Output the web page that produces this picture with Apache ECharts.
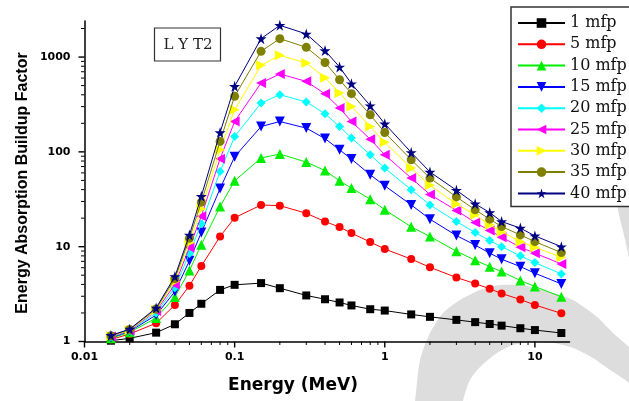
<!DOCTYPE html>
<html>
<head>
<meta charset="utf-8">
<script src="https://cdn.jsdelivr.net/npm/echarts@6/dist/echarts.min.js"></script>
<style>
  html, body { margin: 0; padding: 0; background: #fff; }
  #chart { width: 629px; height: 401px; }
  #measure { position: absolute; left: -2000px; top: 0; width: 629px; height: 401px; visibility: hidden; }
</style>
</head>
<body>
<div id="chart"></div>
<div id="measure"></div>
<script>
// Photon energies (MeV)
const energy = [0.015, 0.02, 0.03, 0.04, 0.05, 0.06, 0.08, 0.1, 0.15, 0.2, 0.3, 0.4, 0.5,
                0.6, 0.8, 1, 1.5, 2, 3, 4, 5, 6, 8, 10, 15];

// Energy absorption buildup factors for each penetration depth
const eabf1  = [1.02, 1.08, 1.24, 1.52, 2.0, 2.5, 3.5, 3.96, 4.13, 3.65, 3.06, 2.79, 2.58,
                2.40, 2.19, 2.12, 1.93, 1.82, 1.69, 1.60, 1.53, 1.47, 1.38, 1.32, 1.23];
const eabf5  = [1.05, 1.2, 1.56, 2.43, 3.87, 6.25, 12.8, 20.2, 27.5, 27.1, 22.5, 18.4, 16.1,
                13.9, 11.2, 9.45, 7.4, 6.06, 4.73, 4.08, 3.6, 3.21, 2.77, 2.43, 1.98];
const eabf10 = [1.08, 1.25, 1.77, 2.95, 5.6, 10.5, 26.5, 49.5, 86, 95, 78, 63.5, 49.5,
                41.5, 31.7, 24.5, 16.2, 12.8, 8.95, 7.2, 6.16, 5.46, 4.4, 3.8, 2.96];
const eabf15 = [1.10, 1.28, 1.9, 3.36, 7.1, 14.1, 41, 89, 185, 209, 178, 138, 105,
                84, 57.3, 43.9, 27.6, 19.5, 13.1, 10.4, 8.54, 7.38, 6.16, 5.25, 4.05];
const eabf20 = [1.12, 1.30, 2.0, 3.7, 8.5, 17.5, 62, 145, 327, 401, 336, 252, 185,
                140, 93.2, 67.4, 39.8, 27.6, 18.4, 14.1, 11.6, 10.0, 8.0, 6.79, 5.16];
const eabf25 = [1.13, 1.31, 2.1, 4.0, 9.8, 21, 84.6, 209, 533, 663, 554, 409, 290,
                209, 136, 93.2, 52.9, 35.5, 24.1, 18.0, 14.8, 12.6, 9.88, 8.54, 6.58];
const eabf30 = [1.14, 1.32, 2.15, 4.3, 11, 25, 105, 278, 817, 1042, 866, 606, 418,
                301, 185, 126, 67.4, 44.4, 28.2, 21.7, 17.0, 14.4, 11.3, 9.88, 7.75];
const eabf35 = [1.15, 1.34, 2.2, 4.6, 12.3, 29.5, 129, 385, 1149, 1564, 1266, 876, 577,
                411, 246, 160, 82.5, 52.9, 33.5, 24.5, 19.5, 16.3, 13.3, 11.3, 8.66];
const eabf40 = [1.16, 1.35, 2.26, 4.85, 13.3, 34, 160, 491, 1564, 2161, 1753, 1169, 786,
                524, 307, 198, 98.6, 61.3, 39.4, 28.3, 22.9, 18.4, 15.7, 13.0, 10.0];

const seriesNames = ['1 mfp', '5 mfp', '10 mfp', '15 mfp', '20 mfp', '25 mfp', '30 mfp', '35 mfp', '40 mfp'];
const seriesValues = [eabf1, eabf5, eabf10, eabf15, eabf20, eabf25, eabf30, eabf35, eabf40];

// Axis ticks and their labels
const xTicks = [0.01, 0.1, 1, 10];
const xTickLabels = ['0.01', '0.1', '1', '10'];
const xMinorTicks = [0.02, 0.03, 0.04, 0.05, 0.06, 0.07, 0.08, 0.09,
                     0.2, 0.3, 0.4, 0.5, 0.6, 0.7, 0.8, 0.9,
                     2, 3, 4, 5, 6, 7, 8, 9];
const yTicks = [1, 10, 100, 1000];
const yTickLabels = ['1', '10', '100', '1000'];
const yMinorTicks = [2, 3, 4, 5, 6, 7, 8, 9, 20, 30, 40, 50, 60, 70, 80, 90,
                     200, 300, 400, 500, 600, 700, 800, 900, 2000];

const X_MIN = 0.01, X_MAX = 17, Y_MIN = 1, Y_MAX = 2400;

// Marker styles per series
const colors = ['#000000', '#ff0000', '#00ee00', '#0000ff', '#00ffff', '#ff00ff', '#ffff00', '#808000', '#000080'];
const starPath = 'path://M50,0 L61,35 L98,35 L68,57 L79,91 L50,70 L21,91 L32,57 L2,35 L39,35 Z';
const symbols = ['rect', 'circle', 'triangle', 'triangle', 'diamond', 'triangle', 'triangle', 'circle', starPath];
const rotations = [0, 0, 0, 180, 0, 90, -90, 0, 0];
const sizes = [8, 8, 10, 10, 9, 10, 10, 9, 11];

function nearestIndex(list, v) {
  let best = 0, bd = Infinity;
  list.forEach((t, i) => {
    const d = Math.abs(Math.log10(t) - Math.log10(v));
    if (d < bd) { bd = d; best = i; }
  });
  return best;
}

const tickFont = { fontFamily: 'DejaVu Sans', fontWeight: 'bold', fontSize: 11, color: '#000' };
const axisLineStyle = { color: '#000', width: 1.5 };
const gridLayout = { left: 84.5, right: 59.5, top: 21, bottom: 59.5 };

function axesOption() {
  return {
    grid: Object.assign({}, gridLayout),
    xAxis: {
      type: 'log', logBase: 10, min: X_MIN, max: X_MAX,
      axisLine: { show: true, lineStyle: axisLineStyle },
      axisTick: { show: false },
      axisLabel: Object.assign({ customValues: xTicks, margin: 10,
        formatter: v => xTickLabels[nearestIndex(xTicks, v)] }, tickFont),
      splitLine: { show: false }
    },
    yAxis: {
      type: 'log', logBase: 10, min: Y_MIN, max: Y_MAX,
      axisLine: { show: true, lineStyle: axisLineStyle },
      axisTick: { show: false },
      axisLabel: Object.assign({ customValues: yTicks, margin: 14,
        formatter: v => yTickLabels[nearestIndex(yTicks, v)] }, tickFont),
      splitLine: { show: false }
    }
  };
}

// Lay out the same axes on an off-screen instance to find where the tick marks go
const probe = echarts.init(document.getElementById('measure'), null, { width: 629, height: 401 });
probe.setOption(Object.assign({ animation: false, series: [{ type: 'line', data: [] }] }, axesOption()));
const xAt = v => probe.convertToPixel({ xAxisIndex: 0 }, v);
const yAt = v => probe.convertToPixel({ yAxisIndex: 0 }, v);
const axisX = xAt(X_MIN), axisY = yAt(Y_MIN);

function xTick(v, len, w) {
  const px = xAt(v);
  return { type: 'line', shape: { x1: px, y1: axisY, x2: px, y2: axisY + len },
           style: { stroke: '#000', lineWidth: w } };
}
function yTick(v, len, w) {
  const py = yAt(v);
  return { type: 'line', shape: { x1: axisX - len, y1: py, x2: axisX, y2: py },
           style: { stroke: '#000', lineWidth: w } };
}
const tickGraphics = []
  .concat(xTicks.map(v => xTick(v, 6, 1.4)))
  .concat(xMinorTicks.map(v => xTick(v, 3.5, 1)))
  .concat(yTicks.map(v => yTick(v, 6, 1.4)))
  .concat(yMinorTicks.map(v => yTick(v, 3.5, 1)));
probe.dispose();

const decorGraphics = [
  // large light-grey swoosh in the lower right corner
  {
    type: 'polygon', z: -5, silent: true,
    shape: { smooth: 0.25, points: [
      [410, 430], [415, 401], [420, 360], [430, 333], [443, 313], [460, 300], [480, 290],
      [500, 285], [527, 286], [550, 292], [573, 300], [597, 317], [613, 333], [629, 347],
      [660, 378], [660, 420], [629, 383], [610, 370], [593, 358], [573, 348], [553, 343],
      [533, 342], [513, 345], [497, 353], [480, 367], [470, 380], [463, 401], [460, 430]
    ] },
    style: { fill: '#dddddd' }
  },
  {
    type: 'polygon', z: -5, silent: true,
    shape: { points: [[615, 195], [650, 195], [650, 290], [629, 258], [624, 235], [619, 215]] },
    style: { fill: '#dddddd' }
  },
  // sample label box
  {
    type: 'rect', z: 10,
    shape: { x: 154.5, y: 28, width: 66, height: 33 },
    style: { fill: '#fff', stroke: '#333', lineWidth: 1.2 }
  },
  {
    type: 'text', z: 11, x: 188, y: 45,
    style: { text: 'L Y T2', font: '15px "DejaVu Serif"', fill: '#222', align: 'center', verticalAlign: 'middle' }
  },
  // axis titles
  {
    type: 'text', z: 11, x: 293, y: 386,
    style: { text: 'Energy (MeV)', font: 'bold 17px "DejaVu Sans"', fill: '#000', align: 'center', verticalAlign: 'middle' }
  },
  {
    type: 'text', z: 11, x: 23, y: 183, rotation: Math.PI / 2,
    style: { text: 'Energy Absorption Buildup Factor', font: 'bold 16px "Liberation Sans"', fill: '#000', align: 'center', verticalAlign: 'middle' }
  }
];

const series = seriesNames.map((name, k) => ({
  name: name,
  type: 'line',
  data: energy.map((e, i) => [e, seriesValues[k][i]]),
  symbol: symbols[k],
  symbolSize: sizes[k],
  symbolRotate: rotations[k],
  showAllSymbol: true,
  lineStyle: { color: colors[k], width: 1 },
  itemStyle: { color: colors[k] },
  z: 2 + k * 0.01
}));

const chart = echarts.init(document.getElementById('chart'), null, { renderer: 'canvas' });
chart.setOption(Object.assign({
  animation: false,
  backgroundColor: '#fff',
  legend: {
    orient: 'vertical',
    left: 511, top: 7,
    padding: [8, 40, 5, 6],
    itemWidth: 47, itemHeight: 12, itemGap: 5.3,
    borderColor: '#333', borderWidth: 1.5,
    backgroundColor: '#fff',
    textStyle: { fontFamily: 'DejaVu Serif', fontSize: 16, color: '#111' },
    data: seriesNames
  },
  graphic: decorGraphics.concat(tickGraphics),
  series: series
}, axesOption()));
</script>
</body>
</html>
